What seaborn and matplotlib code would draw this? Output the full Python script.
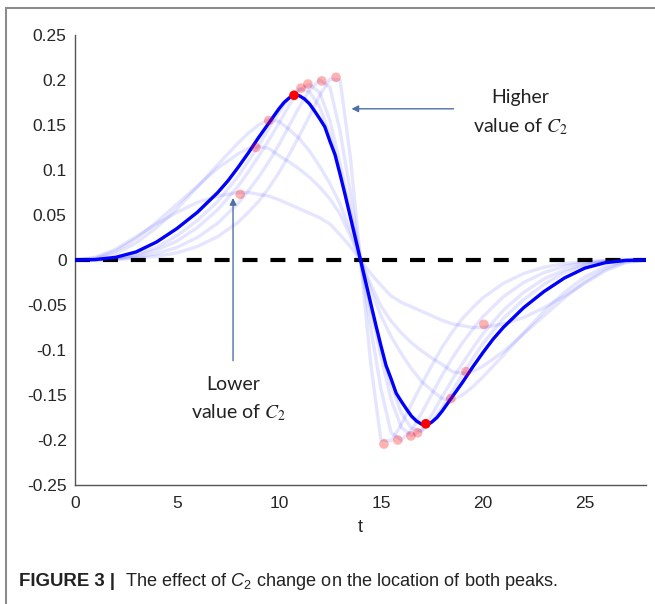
import numpy as np
import pandas as pd
import matplotlib
matplotlib.use("Agg")
import matplotlib.pyplot as plt
from matplotlib.patches import Rectangle
import seaborn as sns

# ---------------- data ----------------
T_main = [0, 1, 2, 3, 4, 5, 6, 7, 7.5, 8, 8.5, 9, 9.5, 9.75, 10, 10.25, 10.5, 10.75, 11, 11.25, 11.5,
          11.75, 12, 12.25, 12.5, 12.75, 13, 13.25, 13.5, 13.75, 14,
          14.25, 14.5, 14.75, 15, 15.25, 15.5, 15.75, 16, 16.25, 16.5, 16.75, 17, 17.25, 17.5, 17.75,
          18, 18.25, 18.5, 19, 19.5, 20, 20.5, 21, 22, 23, 24, 25, 26, 27, 28]
main_curve = [0, 0.0005, 0.003, 0.009, 0.020, 0.035, 0.053, 0.075, 0.088, 0.103, 0.119, 0.136, 0.152, 0.160,
              0.168, 0.175, 0.180, 0.1835, 0.1825, 0.179, 0.1735, 0.1655, 0.157, 0.148, 0.132, 0.117, 0.095,
              0.072, 0.048, 0.024, 0,
              -0.024, -0.048, -0.072, -0.095, -0.117, -0.132, -0.148, -0.157, -0.1655, -0.1735, -0.179,
              -0.1825, -0.1835, -0.180, -0.175, -0.168, -0.160, -0.152, -0.136, -0.119, -0.103, -0.088,
              -0.075, -0.053, -0.035, -0.020, -0.009, -0.003, -0.0005, 0]

T = [0, 1, 2, 3, 4, 5, 6, 7, 8, 8.5, 9, 9.5, 10, 10.5, 11, 11.5, 12, 12.5, 13, 13.5, 14,
     14.5, 15, 15.5, 16, 16.5, 17, 17.5, 18, 18.5, 19, 19.5, 20, 21, 22, 23, 24, 25, 26, 27, 28]
c1 = [0, 0.003, 0.012, 0.026, 0.040, 0.053, 0.064, 0.071, 0.075, 0.075, 0.073, 0.071, 0.067, 0.062, 0.057,
      0.052, 0.047, 0.040, 0.028, 0.015, 0,
      -0.015, -0.028, -0.040, -0.047, -0.052, -0.057, -0.062, -0.067, -0.071, -0.073, -0.075, -0.075,
      -0.071, -0.064, -0.053, -0.040, -0.026, -0.012, -0.003, 0]
c2 = [0, 0.002, 0.010, 0.024, 0.042, 0.062, 0.082, 0.102, 0.118, 0.124, 0.126, 0.124, 0.116, 0.109, 0.101,
      0.092, 0.081, 0.068, 0.051, 0.027, 0,
      -0.027, -0.051, -0.068, -0.081, -0.092, -0.101, -0.109, -0.116, -0.124, -0.126, -0.124, -0.118,
      -0.102, -0.082, -0.062, -0.042, -0.024, -0.010, -0.002, 0]
c3 = [0, 0.001, 0.007, 0.019, 0.036, 0.057, 0.081, 0.106, 0.130, 0.141, 0.150, 0.156, 0.154, 0.145, 0.135,
      0.121, 0.104, 0.085, 0.062, 0.033, 0,
      -0.033, -0.062, -0.085, -0.104, -0.121, -0.135, -0.145, -0.154, -0.156, -0.150, -0.141, -0.130,
      -0.106, -0.081, -0.057, -0.036, -0.019, -0.007, -0.001, 0]
c5 = [0, 0.0003, 0.002, 0.006, 0.014, 0.027, 0.044, 0.065, 0.093, 0.110, 0.127, 0.146, 0.164, 0.180, 0.190,
      0.187, 0.170, 0.139, 0.097, 0.050, 0,
      -0.050, -0.097, -0.139, -0.170, -0.187, -0.190, -0.180, -0.164, -0.146, -0.127, -0.110, -0.093,
      -0.065, -0.044, -0.027, -0.014, -0.006, -0.002, -0.0003, 0]
c6 = [0, 0.0002, 0.0015, 0.005, 0.011, 0.021, 0.036, 0.056, 0.082, 0.098, 0.115, 0.133, 0.152, 0.172, 0.189,
      0.195, 0.186, 0.155, 0.107, 0.054, 0,
      -0.054, -0.107, -0.155, -0.186, -0.195, -0.189, -0.172, -0.152, -0.133, -0.115, -0.098, -0.082,
      -0.056, -0.036, -0.021, -0.011, -0.005, -0.0015, -0.0002, 0]
c7 = [0, 0.0001, 0.001, 0.003, 0.007, 0.014, 0.025, 0.041, 0.063, 0.077, 0.092, 0.109, 0.128, 0.149, 0.170,
      0.189, 0.200, 0.192, 0.143, 0.075, 0,
      -0.075, -0.143, -0.192, -0.200, -0.189, -0.170, -0.149, -0.128, -0.109, -0.092, -0.077, -0.063,
      -0.041, -0.025, -0.014, -0.007, -0.003, -0.001, -0.0001, 0]
c8 = [0, 0, 0.0005, 0.002, 0.004, 0.008, 0.015, 0.026, 0.042, 0.053, 0.065, 0.080, 0.097, 0.117, 0.138,
      0.160, 0.183, 0.201, 0.200, 0.115, 0,
      -0.115, -0.200, -0.201, -0.183, -0.160, -0.138, -0.117, -0.097, -0.080, -0.065, -0.053, -0.042,
      -0.026, -0.015, -0.008, -0.004, -0.002, -0.0005, 0, 0]

peak_t = [8.1, 8.87, 9.5, 11.08, 11.42, 12.1, 12.8]
peak_v = [0.073, 0.125, 0.155, 0.191, 0.1955, 0.199, 0.203]
trough_t = [20.05, 19.17, 18.43, 16.8, 16.47, 15.83, 15.15]
trough_v = [-0.0715, -0.124, -0.154, -0.192, -0.1955, -0.200, -0.2045]
main_peak_t = [10.74, 17.2]
main_peak_v = [0.183, -0.182]

x_ticks = [0, 5, 10, 15, 20, 25]
y_ticks = [-0.25, -0.2, -0.15, -0.1, -0.05, 0, 0.05, 0.1, 0.15, 0.2, 0.25]
y_tick_labels = ["-0.25", "-0.2", "-0.15", "-0.1", "-0.05", "0", "0.05", "0.1", "0.15", "0.2", "0.25"]

# ---------------- styling ----------------
sns.set_theme(style="white")
plt.rcParams["font.family"] = ["Liberation Sans", "DejaVu Sans"]
plt.rcParams["axes.unicode_minus"] = False
plt.rcParams["mathtext.fontset"] = "custom"
plt.rcParams["mathtext.rm"] = "Liberation Sans"
plt.rcParams["mathtext.it"] = "Liberation Sans:italic"
plt.rcParams["mathtext.bf"] = "Liberation Sans:bold"

fig = plt.figure(figsize=(6.55, 6.04), dpi=100)
ax = fig.add_axes([75 / 655, 1 - 485 / 604, 571 / 655, 450 / 604])

faint = pd.concat([
    pd.DataFrame({"t": T, "v": vals, "curve": name})
    for name, vals in [("c1", c1), ("c2", c2), ("c3", c3), ("c5", c5),
                       ("c6", c6), ("c7", c7), ("c8", c8)]
], ignore_index=True)

sns.lineplot(data=faint, x="t", y="v", units="curve", estimator=None, sort=False,
             color="#0000ff", alpha=0.1, lw=2.4, legend=False, ax=ax)
ax.axhline(0, color="black", lw=3, dashes=(3.6, 3.1), zorder=3)
sns.lineplot(x=T_main, y=main_curve, sort=False, color="#0000ff", lw=2.4, ax=ax, zorder=4)
sns.scatterplot(x=peak_t + trough_t, y=peak_v + trough_v, color="#ff0000", alpha=0.3,
                s=48, edgecolor="none", ax=ax, zorder=5)
sns.scatterplot(x=main_peak_t, y=main_peak_v, color="#ff0000", s=48, edgecolor="none",
                ax=ax, zorder=6)

ax.set_xlim(0, 28)
ax.set_ylim(-0.25, 0.25)
ax.set_xticks(x_ticks)
ax.set_xticklabels([str(v) for v in x_ticks])
ax.set_yticks(y_ticks)
ax.set_yticklabels(y_tick_labels)
ax.tick_params(direction="in", length=4, width=1, colors="#555555", labelcolor="#262626",
               labelsize=12.5, pad=6)
ax.tick_params(axis="x", pad=8)
for s in ["top", "right"]:
    ax.spines[s].set_visible(False)
for s in ["left", "bottom"]:
    ax.spines[s].set_color("#555555")
    ax.spines[s].set_linewidth(1)
ax.set_xlabel("t", fontsize=13, color="#262626", labelpad=6)
ax.set_ylabel("")
ax.grid(False)

# annotations
arrow_c = "#4f6fa8"
ax.annotate("", xy=(13.42, 0.168), xytext=(18.7, 0.168),
            arrowprops=dict(arrowstyle="-|>", color=arrow_c, lw=1, mutation_scale=10))
ax.annotate("", xy=(7.75, 0.072), xytext=(7.75, -0.115),
            arrowprops=dict(arrowstyle="-|>", color=arrow_c, lw=1, mutation_scale=10))
ann_font = ["Lato", "DejaVu Sans"]
fig.text(520 / 655, 1 - 97 / 604, "Higher", ha="center", va="center", fontsize=14,
         family=ann_font, color="#222222")
fig.text(520 / 655, 1 - 127 / 604, r"value of $C_2$", ha="center", va="center", fontsize=14,
         family=ann_font, color="#222222", math_fontfamily="stix")
fig.text(233 / 655, 1 - 385 / 604, "Lower", ha="center", va="center", fontsize=14,
         family=ann_font, color="#222222")
fig.text(238 / 655, 1 - 413 / 604, r"value of $C_2$", ha="center", va="center", fontsize=14,
         family=ann_font, color="#222222", math_fontfamily="stix")

# caption (fitted to the reference widths)
renderer = fig.canvas.get_renderer()
cap_y = 1 - 581 / 604
t1 = fig.text(19 / 655, cap_y, "FIGURE 3 |", ha="left", va="center", fontsize=12,
              fontweight="bold", color="#222222")
w1 = t1.get_window_extent(renderer).width
t1.set_fontsize(12 * 96 / w1)
t2 = fig.text(125 / 655, cap_y, r"The effect of $C_2$ change on the location of both peaks.",
              ha="left", va="center", fontsize=12, color="#222222", math_fontfamily="custom")
w2 = t2.get_window_extent(renderer).width
t2.set_fontsize(12 * 432 / w2)

# outer frame
fig.add_artist(Rectangle((6 / 655, -0.05), 1.2, (604 - 8) / 604 + 0.05, transform=fig.transFigure,
                         fill=False, edgecolor="#8c8c8c", lw=1.5))

fig.savefig("out.png", dpi=100)
